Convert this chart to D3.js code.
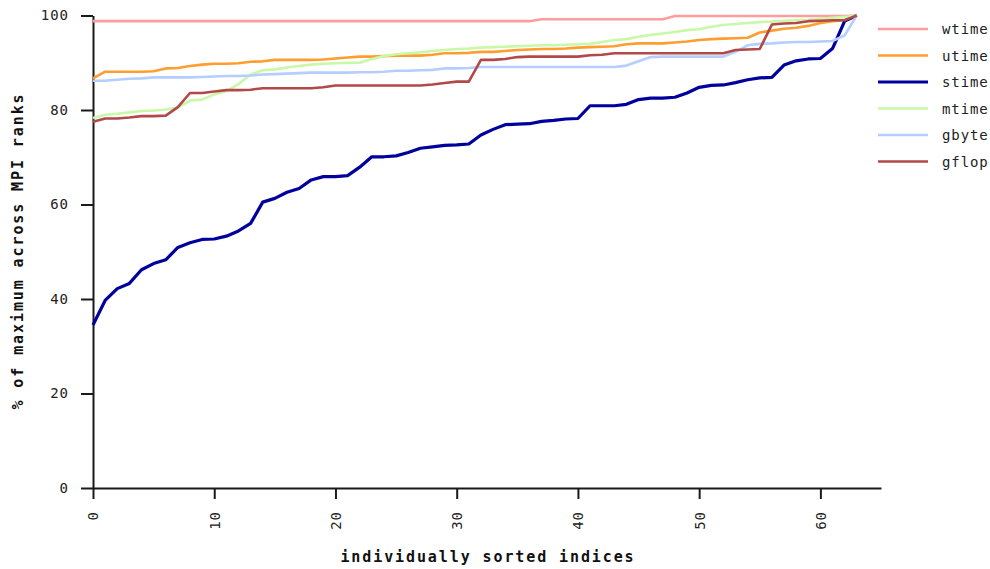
<!DOCTYPE html>
<html>
<head>
<meta charset="utf-8">
<script src="https://cdn.jsdelivr.net/npm/d3@7"></script>
<style>
  body { margin: 0; background: #fff; }
  text { font-family: "DejaVu Sans Mono", monospace; }
</style>
</head>
<body>
<div id="chart-area"></div>
<script>
// values, one per sorted index 0..63
let wtime = [98.8, 98.8, 98.8, 98.8, 98.8, 98.8, 98.8, 98.8, 98.8, 98.8,
    98.8, 98.8, 98.8, 98.8, 98.8, 98.8, 98.8, 98.8, 98.8, 98.8,
    98.8, 98.8, 98.8, 98.8, 98.8, 98.8, 98.8, 98.8, 98.8, 98.8,
    98.8, 98.8, 98.8, 98.8, 98.8, 98.8, 98.8, 99.2, 99.2, 99.2,
    99.2, 99.2, 99.2, 99.2, 99.2, 99.2, 99.2, 99.2, 99.9, 99.9,
    99.9, 99.9, 99.9, 99.9, 99.9, 99.9, 99.9, 99.9, 99.9, 99.9,
    99.9, 99.9, 99.9, 100];
let utime = [86.7, 88.1, 88.1, 88.1, 88.1, 88.2, 88.8, 88.9, 89.3, 89.6,
    89.8, 89.8, 89.9, 90.2, 90.3, 90.6, 90.6, 90.6, 90.6, 90.7,
    90.9, 91.1, 91.3, 91.3, 91.4, 91.5, 91.5, 91.5, 91.7, 92.0,
    92.0, 92.1, 92.3, 92.3, 92.5, 92.7, 92.8, 92.9, 92.9, 93.0,
    93.2, 93.3, 93.4, 93.5, 93.9, 94.1, 94.1, 94.1, 94.3, 94.5,
    94.8, 95.0, 95.1, 95.2, 95.3, 96.4, 96.8, 97.2, 97.4, 97.8,
    98.4, 98.8, 99.0, 100];
let stime = [34.5, 39.7, 42.2, 43.3, 46.2, 47.5, 48.3, 50.9, 51.9, 52.6,
    52.7, 53.3, 54.4, 56.0, 60.5, 61.3, 62.6, 63.4, 65.2, 65.9,
    65.9, 66.1, 67.9, 70.1, 70.1, 70.3, 71.0, 71.9, 72.2, 72.5,
    72.6, 72.8, 74.7, 75.9, 76.9, 77.0, 77.1, 77.6, 77.8, 78.1,
    78.2, 80.9, 80.9, 80.9, 81.2, 82.2, 82.5, 82.5, 82.7, 83.6,
    84.8, 85.2, 85.3, 85.8, 86.4, 86.8, 86.9, 89.5, 90.4, 90.8,
    90.9, 93.0, 98.8, 100];
let mtime = [78.3, 79.0, 79.2, 79.5, 79.8, 79.9, 80.1, 80.5, 82.0, 82.2,
    83.3, 84.0, 85.5, 87.5, 88.4, 88.6, 89.0, 89.3, 89.6, 89.8,
    89.9, 90.0, 90.0, 90.8, 91.4, 91.8, 92.0, 92.2, 92.5, 92.7,
    92.9, 93.0, 93.2, 93.3, 93.4, 93.5, 93.6, 93.7, 93.7, 93.8,
    93.9, 94.0, 94.4, 94.8, 95.0, 95.5, 95.9, 96.2, 96.5, 96.9,
    97.1, 97.6, 98.0, 98.2, 98.4, 98.6, 98.7, 98.9, 99.0, 99.1,
    99.3, 99.5, 99.7, 100];
let gbyte = [86.2, 86.2, 86.4, 86.6, 86.7, 86.9, 86.9, 86.9, 86.9, 87.0,
    87.1, 87.2, 87.2, 87.3, 87.5, 87.6, 87.7, 87.8, 87.9, 87.9,
    87.9, 87.9, 88.0, 88.0, 88.1, 88.3, 88.3, 88.4, 88.5, 88.8,
    88.8, 88.9, 89.1, 89.1, 89.1, 89.1, 89.1, 89.1, 89.1, 89.1,
    89.1, 89.1, 89.1, 89.1, 89.4, 90.3, 91.2, 91.3, 91.3, 91.3,
    91.3, 91.3, 91.3, 92.3, 93.7, 94.0, 94.1, 94.3, 94.4, 94.4,
    94.5, 94.6, 95.8, 100];
let gflop = [77.5, 78.2, 78.2, 78.4, 78.7, 78.7, 78.8, 80.6, 83.6, 83.6,
    83.9, 84.2, 84.2, 84.3, 84.6, 84.6, 84.6, 84.6, 84.6, 84.8,
    85.2, 85.2, 85.2, 85.2, 85.2, 85.2, 85.2, 85.2, 85.4, 85.7,
    86.0, 86.0, 90.6, 90.6, 90.8, 91.2, 91.3, 91.3, 91.3, 91.3,
    91.3, 91.6, 91.7, 92.0, 92.0, 92.0, 92.0, 92.0, 92.0, 92.0,
    92.0, 92.0, 92.0, 92.7, 92.8, 92.9, 98.1, 98.3, 98.4, 98.8,
    98.9, 99.0, 99.0, 100];

let seriesNames = ["wtime", "utime", "stime", "mtime", "gbyte", "gflop"];
let seriesValues = [wtime, utime, stime, mtime, gbyte, gflop];
let seriesColors = ["#ff9c9c", "#ff9d2e", "#00009c", "#c8f8a8", "#b4ceff", "#b24848"];
let xTicks = [0, 10, 20, 30, 40, 50, 60];
let yTicks = [0, 20, 40, 60, 80, 100];

const sortedChart = () => {
    let width = 990;
    let height = 569;

    let svg = d3.select("#chart-area")
        .append("svg")
        .attr("width", width)
        .attr("height", height);

    //scales
    let xScale = d3.scaleLinear()
        .domain([0, 65])
        .range([93, 881]);

    let yScale = d3.scaleLinear()
        .domain([0, 100])
        .range([488, 15.5]);

    let xAxis = d3.axisBottom(xScale)
        .tickValues(xTicks)
        .tickSize(11)
        .tickSizeOuter(0)
        .tickFormat(d3.format("d"));

    let yAxis = d3.axisLeft(yScale)
        .tickValues(yTicks)
        .tickSize(12)
        .tickSizeOuter(0)
        .tickFormat(d3.format("d"));

    //x axis
    let gx = svg.append("g")
        .attr("transform", "translate(0," + yScale(0) + ")")
        .call(xAxis);
    gx.selectAll("text")
        .attr("transform", "rotate(-90)")
        .attr("x", -23)
        .attr("y", 0)
        .attr("dy", "0.35em")
        .attr("text-anchor", "end")
        .attr("font-size", "14px")
        .attr("letter-spacing", "1px")
        .attr("fill", "#222");

    //y axis
    let gy = svg.append("g")
        .attr("transform", "translate(" + xScale(0) + ",0)")
        .call(yAxis);
    gy.selectAll("text")
        .attr("x", -24)
        .attr("font-size", "14px")
        .attr("letter-spacing", "1px")
        .attr("fill", "#222");

    svg.selectAll(".domain, .tick line")
        .attr("stroke", "#1a1a1a")
        .attr("stroke-width", 2);

    //lines
    let line = d3.line()
        .x((d, i) => xScale(i))
        .y(d => yScale(d));

    seriesValues.forEach((vals, k) => {
        svg.append("path")
            .datum(vals)
            .attr("fill", "none")
            .attr("stroke", seriesColors[k])
            .attr("stroke-width", seriesNames[k] == "stime" ? 3.2 : 2.6)
            .attr("stroke-linejoin", "round")
            .attr("d", line);
    });

    //legend
    let legend = svg.append("g");
    seriesNames.forEach((name, k) => {
        let y = 29 + k * 26.5;
        legend.append("line")
            .attr("x1", 878)
            .attr("x2", 928)
            .attr("y1", y)
            .attr("y2", y)
            .attr("stroke", seriesColors[k])
            .attr("stroke-width", name == "stime" ? 3.2 : 2.6);
        legend.append("text")
            .attr("x", 942)
            .attr("y", y + 5)
            .attr("font-size", "14px")
            .attr("letter-spacing", "0.9px")
            .attr("fill", "#222")
            .text(name);
    });

    //axis titles
    svg.append("text")
        .attr("x", 488)
        .attr("y", 562)
        .attr("text-anchor", "middle")
        .attr("font-size", "15px")
        .attr("font-weight", "bold")
        .attr("letter-spacing", "1.9px")
        .attr("fill", "#111")
        .text("individually sorted indices");

    svg.append("text")
        .attr("transform", "translate(23,251) rotate(-90)")
        .attr("text-anchor", "middle")
        .attr("font-size", "15px")
        .attr("font-weight", "bold")
        .attr("letter-spacing", "1.9px")
        .attr("fill", "#111")
        .text("% of maximum across MPI ranks");
};
sortedChart();
</script>
</body>
</html>
